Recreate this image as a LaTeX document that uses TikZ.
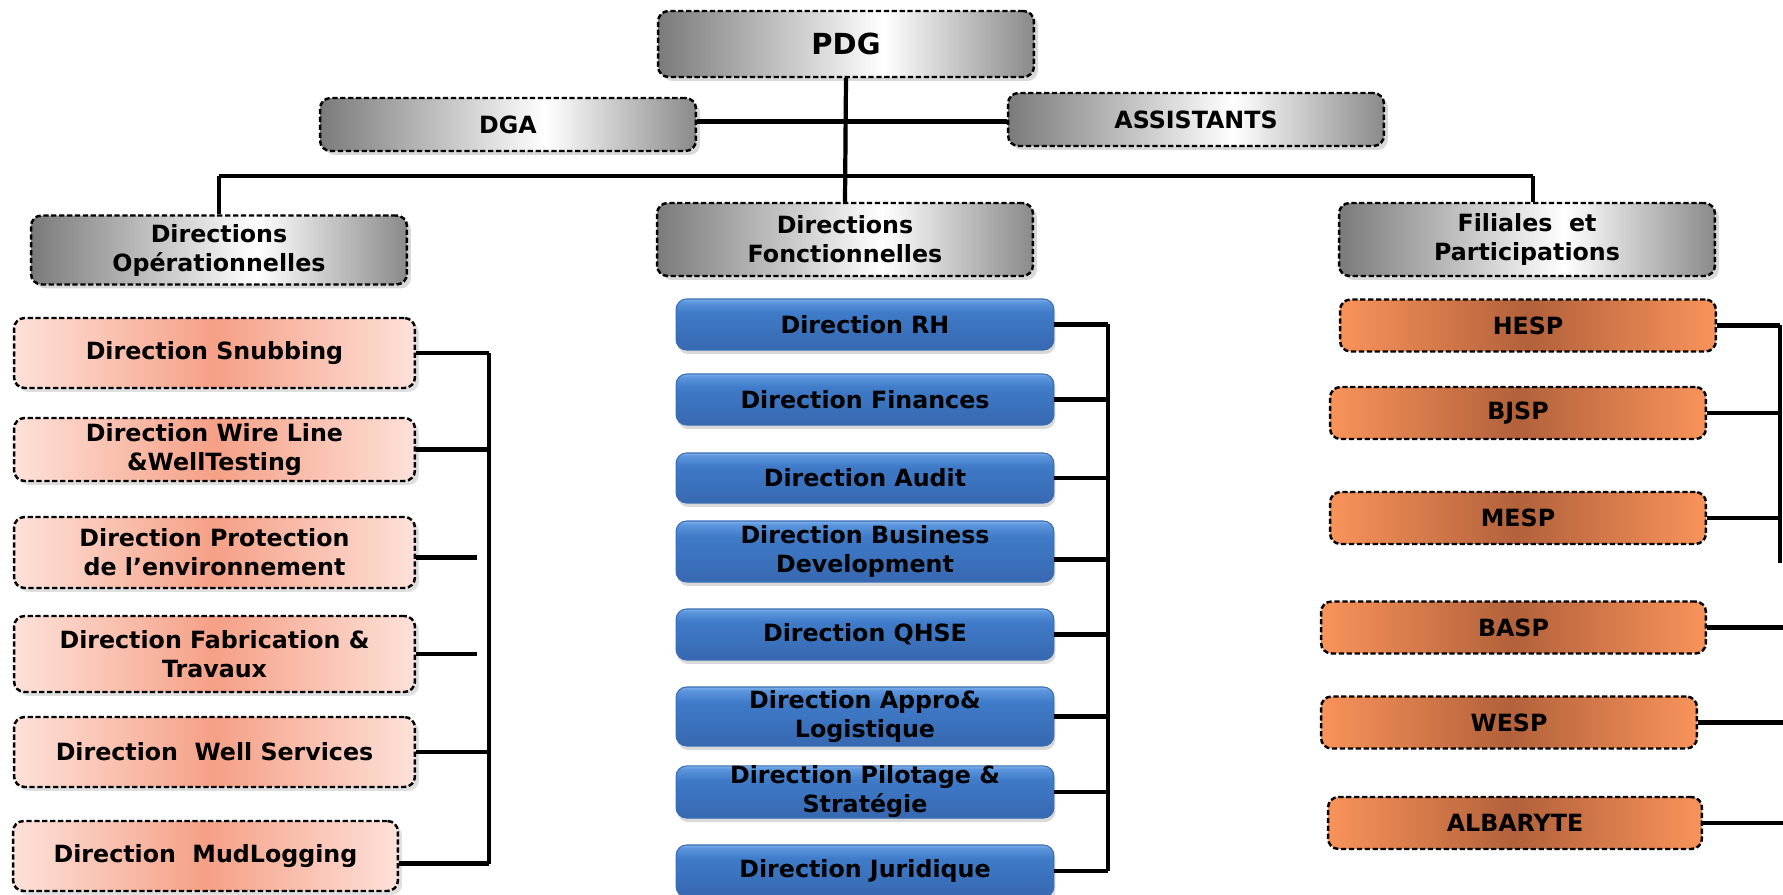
\documentclass[tikz,border=0pt]{standalone}
\usepackage{fontspec}
\setmainfont{DejaVu Sans}
\usepackage{tikz}
\usetikzlibrary{shadows}
\definecolor{pinkedge}{HTML}{FDE1D9}
\definecolor{pinkmid}{HTML}{F5A086}
\definecolor{orgedge}{HTML}{F8935A}
\definecolor{orgmid}{HTML}{B2613B}
\definecolor{fnlow}{HTML}{3768B0}
\definecolor{fnmain}{HTML}{3F7BC8}
\definecolor{fnhigh}{HTML}{5C95DC}
\definecolor{fntop}{HTML}{7DB0EA}
\definecolor{fnedge}{HTML}{3A6CB5}
\pgfdeclarehorizontalshading{chiefshade}{100bp}{color(0bp)=(black!52); color(25bp)=(black!52); color(55bp)=(white); color(75bp)=(black!46); color(100bp)=(black!46)}
\pgfdeclareverticalshading{fnshade}{100bp}{color(0bp)=(fnlow); color(25bp)=(fnlow); color(62bp)=(fnmain); color(72bp)=(fnhigh); color(75bp)=(fntop); color(100bp)=(fntop)}

\begin{document}
\begin{tikzpicture}[
  x=0.02cm, y=-0.02cm,
  font=\fontsize{13.5}{16.5}\selectfont\bfseries,
  every node/.style={align=center, inner sep=0pt},
  card/.style={rounded corners=6pt, draw=black, line width=1.4pt, dash pattern=on 3pt off 1.5pt},
  chief/.style={card, shading=chiefshade, minimum width=7.52cm,
    drop shadow={opacity=0.3, shadow xshift=0.8mm, shadow yshift=-0.8mm}},
  opdir/.style={card, left color=pinkedge, right color=pinkedge, middle color=pinkmid,
    drop shadow={opacity=0.25, shadow xshift=0.8mm, shadow yshift=-0.8mm}},
  fndir/.style={rounded corners=6pt, draw=fnedge, line width=0.6pt, shading=fnshade,
    minimum width=7.56cm, drop shadow={opacity=0.3, shadow xshift=0.3mm, shadow yshift=-0.8mm}},
  filiale/.style={card, left color=orgedge, right color=orgedge, middle color=orgmid, minimum height=1.04cm},
  link/.style={line width=2.8pt},
  drop/.style={line width=2pt}
]
\useasboundingbox (0,0) rectangle (1783,895);

% Head of the chart
\node[chief, minimum height=1.32cm, font=\fontsize{16.5}{19}\selectfont\bfseries] (pdg) at (846,44) {PDG};
\node[chief, minimum height=1.06cm] (dga) at (508,124.5) {DGA};
\node[chief, minimum height=1.06cm] (assist) at (1196,119.5) {ASSISTANTS};
\node[chief, minimum height=1.38cm] (ops) at (219,250) {Directions\\Opérationnelles};
\node[chief, minimum height=1.46cm] (fonc) at (845,239.5) {Directions\\Fonctionnelles};
\node[chief, minimum height=1.46cm] (fil) at (1527,239.5) {Filiales\ \ et\\Participations};

\draw[link] ([yshift=1.5pt]dga.east) -- ([yshift=1.5pt]dga.east -| assist.west);
\draw[line width=2.4pt] (pdg.south) -- (fonc.north);
\coordinate (busL) at (219,176);
\coordinate (busR) at (1533,176);
\draw[link] (busL) -- (busR);
\draw[drop] (busL) -- (ops.north);
\draw[drop] (busR) -- (busR |- fil.north);

% Operational directions
\foreach \name/\x/\y/\w/\h/\txt in {
  snub/214.5/353/8.02/1.4/{Direction Snubbing},
  wire/214.5/449.5/8.02/1.26/{Direction Wire Line\\\&WellTesting},
  prot/214.5/552.5/8.02/1.42/{Direction Protection\\de l’environnement},
  fab/214.5/654/8.02/1.52/{Direction Fabrication \&\\Travaux},
  well/214.5/752/8.02/1.4/{Direction\ \ Well Services},
  mud/205.5/856/7.7/1.4/{Direction\ \ MudLogging}}
  \node[opdir, minimum width=\w cm, minimum height=\h cm] (\name) at (\x,\y) {\txt};

\coordinate (opbus) at (489,0);
\draw[link] (snub.east) -- (snub.east -| opbus);
\draw[link] (wire.east) -- (wire.east -| opbus);
\draw[link, shorten >=7pt] ([yshift=-3pt]prot.east) -- ([yshift=-3pt]prot.east -| opbus);
\draw[link, shorten >=7pt] (fab.east) -- (fab.east -| opbus);
\draw[link] (well.east) -- (well.east -| opbus);
\draw[link] ([yshift=-4.5pt]mud.east) -- ([yshift=-4.5pt]mud.east -| opbus);
\draw[drop] (snub.east -| opbus) -- ([yshift=-4.5pt]mud.east -| opbus);

% Functional directions
\foreach \name/\y/\h/\txt in {
  rh/324.5/1.02/{Direction RH},
  fin/399.5/1.02/{Direction Finances},
  aud/478/1.0/{Direction Audit},
  bd/551.5/1.22/{Direction Business\\Development},
  qhse/634.5/1.02/{Direction QHSE},
  appro/716.5/1.18/{Direction Appro\&\\Logistique},
  pilot/792/1.04/{Direction Pilotage \&\\Stratégie},
  jur/871/1.04/{Direction Juridique}}
  \node[fndir, minimum height=\h cm] (\name) at (865,\y) {\txt};

\coordinate (fnbus) at (1108,0);
\foreach \name in {rh,fin,aud,qhse,appro,pilot,jur}
  \draw[link] (\name.east) -- (\name.east -| fnbus);
\draw[link] ([yshift=-4.8pt]bd.east) -- ([yshift=-4.8pt]bd.east -| fnbus);
\draw[drop] (rh.east -| fnbus) -- (jur.east -| fnbus);

% Subsidiaries
\node[filiale, minimum width=7.52cm] (hesp) at (1528,325.5) {HESP};
\node[filiale, minimum width=7.52cm] (bjsp) at (1518,413) {BJSP};
\node[filiale, minimum width=7.52cm] (mesp) at (1518,518) {MESP};
\node[filiale, minimum width=7.7cm] (basp) at (1513.5,627.5) {BASP};
\node[filiale, minimum width=7.52cm] (wesp) at (1509,722.5) {WESP};
\node[filiale, minimum width=7.48cm] (alba) at (1515,823) {ALBARYTE};

\coordinate (filbus) at (1780,0);
\coordinate (edge) at (1795,0);
\foreach \name in {hesp,bjsp,mesp}
  \draw[link] (\name.east) -- (\name.east -| filbus);
\draw[drop] (hesp.east -| filbus) -- (mesp.east -| filbus) -- ++(0,45);
\foreach \name in {basp,wesp,alba}
  \draw[link] (\name.east) -- (\name.east -| edge);
\end{tikzpicture}
\end{document}
